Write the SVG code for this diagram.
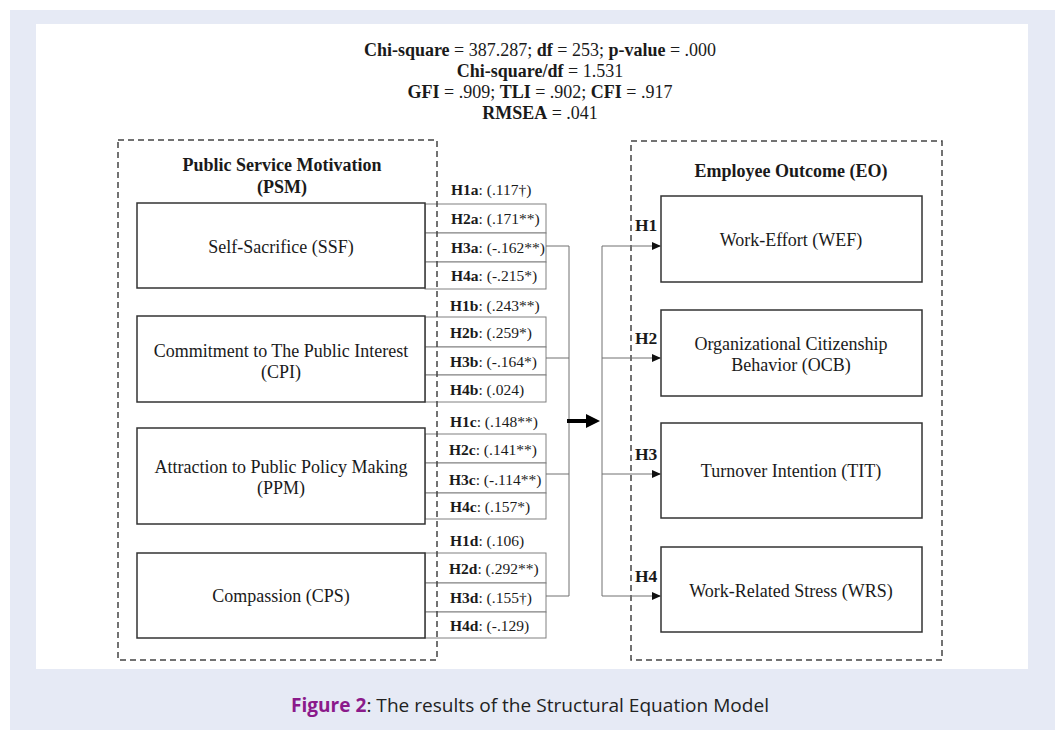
<svg xmlns="http://www.w3.org/2000/svg" width="1058" height="730" viewBox="0 0 1058 730">
<style>
.serif{font-family:"Liberation Serif","Times New Roman",serif;fill:#1a1a1a}
.stat{font-size:18px;text-anchor:middle}
.title{font-size:18px;font-weight:bold;text-anchor:middle}
.node{fill:#fff;stroke:#333;stroke-width:1.5}
.nlab{font-size:18px;text-anchor:middle}
.cell{fill:#fff;stroke:#808080;stroke-width:1}
.tlab{font-size:15.5px}
.dash{fill:none;stroke:#444;stroke-width:1.5;stroke-dasharray:6 4}
.conn{fill:none;stroke:#707070;stroke-width:1}
.h{font-size:17.5px;font-weight:bold}
</style>
<defs>
<marker id="ah" markerWidth="10" markerHeight="10" refX="9" refY="5" orient="auto" markerUnits="userSpaceOnUse">
<path d="M0,1 L9,5 L0,9 Z" fill="#111"/>
</marker>
</defs>
<rect x="10" y="10" width="1045" height="720" fill="#e6eaf5"/>
<rect x="36" y="24" width="992" height="645" fill="#fff"/>

<g id="stats" class="serif stat">
<text x="540" y="56"><tspan font-weight="bold">Chi-square</tspan> = 387.287; <tspan font-weight="bold">df</tspan> = 253; <tspan font-weight="bold">p-value</tspan> = .000</text>
<text x="540" y="77"><tspan font-weight="bold">Chi-square/df</tspan> = 1.531</text>
<text x="540" y="98"><tspan font-weight="bold">GFI</tspan> = .909; <tspan font-weight="bold">TLI</tspan> = .902; <tspan font-weight="bold">CFI</tspan> = .917</text>
<text x="540" y="119"><tspan font-weight="bold">RMSEA</tspan> = .041</text>
</g>

<!-- tables of coefficients -->
<g id="table-ssf">
<rect class="cell" x="425" y="204" width="121" height="29"/>
<rect class="cell" x="425" y="233" width="121" height="29"/>
<rect class="cell" x="425" y="262" width="121" height="27"/>
<g class="serif tlab">
<text x="451" y="195"><tspan font-weight="bold">H1a</tspan>: (.117†)</text>
<text x="451" y="224"><tspan font-weight="bold">H2a</tspan>: (.171**)</text>
<text x="451" y="253"><tspan font-weight="bold">H3a</tspan>: (-.162**)</text>
<text x="451" y="281"><tspan font-weight="bold">H4a</tspan>: (-.215*)</text>
</g>
</g>
<g id="table-cpi">
<rect class="cell" x="425" y="317" width="121" height="30"/>
<rect class="cell" x="425" y="347" width="121" height="28"/>
<rect class="cell" x="425" y="375" width="121" height="27"/>
<g class="serif tlab">
<text x="450" y="311"><tspan font-weight="bold">H1b</tspan>: (.243**)</text>
<text x="450" y="338"><tspan font-weight="bold">H2b</tspan>: (.259*)</text>
<text x="450" y="367"><tspan font-weight="bold">H3b</tspan>: (-.164*)</text>
<text x="450" y="395"><tspan font-weight="bold">H4b</tspan>: (.024)</text>
</g>
</g>
<g id="table-ppm">
<rect class="cell" x="425" y="434" width="121" height="29"/>
<rect class="cell" x="425" y="463" width="121" height="30"/>
<rect class="cell" x="425" y="493" width="121" height="26"/>
<g class="serif tlab">
<text x="450" y="427"><tspan font-weight="bold">H1c</tspan>: (.148**)</text>
<text x="449" y="455"><tspan font-weight="bold">H2c</tspan>: (.141**)</text>
<text x="449" y="485"><tspan font-weight="bold">H3c</tspan>: (-.114**)</text>
<text x="450" y="512"><tspan font-weight="bold">H4c</tspan>: (.157*)</text>
</g>
</g>
<g id="table-cps">
<rect class="cell" x="425" y="553" width="121" height="30"/>
<rect class="cell" x="425" y="583" width="121" height="29"/>
<rect class="cell" x="425" y="612" width="121" height="26"/>
<g class="serif tlab">
<text x="450" y="546"><tspan font-weight="bold">H1d</tspan>: (.106)</text>
<text x="449" y="574"><tspan font-weight="bold">H2d</tspan>: (.292**)</text>
<text x="450" y="603"><tspan font-weight="bold">H3d</tspan>: (.155†)</text>
<text x="450" y="631"><tspan font-weight="bold">H4d</tspan>: (-.129)</text>
</g>
</g>

<!-- group frames -->
<g id="psm">
<rect class="dash" x="118" y="140" width="319" height="520"/>
<text class="serif title" x="282" y="171">Public Service Motivation</text>
<text class="serif title" x="282" y="193">(PSM)</text>
</g>
<g id="eo">
<rect class="dash" x="631" y="141" width="311" height="519"/>
<text class="serif title" x="791" y="177">Employee Outcome (EO)</text>
</g>

<!-- left nodes -->
<g id="ssf">
<rect class="node" x="137" y="203" width="288" height="85"/>
<text class="serif nlab" x="281" y="253">Self-Sacrifice (SSF)</text>
</g>
<g id="cpi">
<rect class="node" x="137" y="316" width="288" height="86"/>
<text class="serif nlab" x="281" y="357">Commitment to The Public Interest</text>
<text class="serif nlab" x="281" y="378">(CPI)</text>
</g>
<g id="ppm">
<rect class="node" x="137" y="428" width="288" height="96"/>
<text class="serif nlab" x="281" y="473">Attraction to Public Policy Making</text>
<text class="serif nlab" x="281" y="494">(PPM)</text>
</g>
<g id="cps">
<rect class="node" x="137" y="553" width="288" height="85"/>
<text class="serif nlab" x="281" y="602">Compassion (CPS)</text>
</g>

<!-- right nodes -->
<g id="wef">
<rect class="node" x="661" y="196" width="261" height="86"/>
<text class="serif nlab" x="791" y="246">Work-Effort (WEF)</text>
</g>
<g id="ocb">
<rect class="node" x="661" y="310" width="261" height="86"/>
<text class="serif nlab" x="791" y="350">Organizational Citizenship</text>
<text class="serif nlab" x="791" y="371">Behavior (OCB)</text>
</g>
<g id="tit">
<rect class="node" x="661" y="423" width="261" height="95"/>
<text class="serif nlab" x="791" y="477">Turnover Intention (TIT)</text>
</g>
<g id="wrs">
<rect class="node" x="661" y="547" width="261" height="85"/>
<text class="serif nlab" x="791" y="597">Work-Related Stress (WRS)</text>
</g>

<!-- connectors -->
<g id="connectors">
<path class="conn" d="M546,246 H569 M546,358 H569 M546,474 H569 M546,596 H569 M569,246 V596"/>
<path class="conn" d="M602,246 V596"/>
<path class="conn" d="M602,246 H661" marker-end="url(#ah)"/>
<path class="conn" d="M602,358 H661" marker-end="url(#ah)"/>
<path class="conn" d="M602,474 H661" marker-end="url(#ah)"/>
<path class="conn" d="M602,596 H661" marker-end="url(#ah)"/>
<path d="M567,421 H588" stroke="#000" stroke-width="4"/>
<path d="M586,414 L600,421 L586,428 Z" fill="#000"/>
<g class="serif h">
<text x="635" y="231">H1</text>
<text x="635" y="344">H2</text>
<text x="635" y="460">H3</text>
<text x="635" y="582">H4</text>
</g>
</g>

<text x="530" y="712" text-anchor="middle" font-family="'Open Sans','Noto Sans',sans-serif" font-size="19" fill="#222" textLength="478" lengthAdjust="spacingAndGlyphs"><tspan fill="#8b1a8b" font-weight="bold">Figure 2</tspan>: The results of the Structural Equation Model</text>
</svg>
